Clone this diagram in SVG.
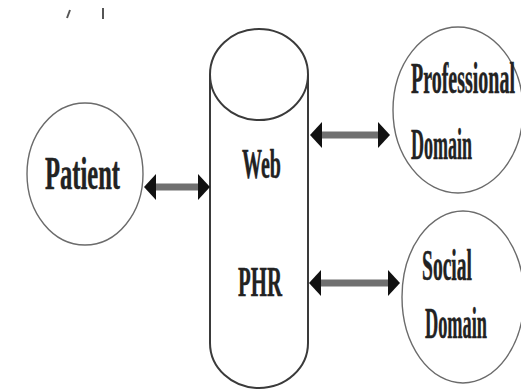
<svg xmlns="http://www.w3.org/2000/svg" width="521" height="392" viewBox="0 0 521 392">
  <style>
    .node { fill: #ffffff; stroke: #6b6b6b; stroke-width: 1.4; }
    .cyl { fill: #ffffff; stroke: #3a3a3a; stroke-width: 2; }
    .lbl { font-family: "Liberation Serif", "Times New Roman", serif; font-weight: bold; fill: #222222; stroke: #222222; stroke-width: 0.5; }
    .shaft { stroke: #707070; stroke-width: 7; fill: none; }
  </style>
  <defs>
    <marker id="head" viewBox="0 -14 12 28" refX="6" refY="0" markerWidth="12" markerHeight="28" markerUnits="userSpaceOnUse" orient="auto-start-reverse">
      <path d="M0,-13 L12,0 L0,13 Z" fill="#111111"/>
    </marker>
  </defs>
  <rect x="0" y="0" width="521" height="392" fill="#ffffff"/>

  <g id="fragments" stroke="#555555" stroke-width="2">
    <line x1="70" y1="10" x2="67" y2="18"/>
    <line x1="103" y1="8" x2="103" y2="19"/>
  </g>

  <g id="patient">
    <ellipse class="node" cx="85" cy="174" rx="58" ry="71"/>
    <text class="lbl" x="45" y="189" font-size="46" textLength="75" lengthAdjust="spacingAndGlyphs">Patient</text>
  </g>

  <g id="web-phr">
    <path class="cyl" d="M210,74 L210,343 A49,45 0 0 0 308,343 L308,74"/>
    <ellipse class="cyl" cx="259" cy="74.5" rx="49" ry="45.5" stroke-width="2.4"/>
    <text class="lbl" x="242" y="178" font-size="43" textLength="39" lengthAdjust="spacingAndGlyphs">Web</text>
    <text class="lbl" x="238" y="296" font-size="43" textLength="44" lengthAdjust="spacingAndGlyphs">PHR</text>
  </g>

  <g id="professional-domain">
    <ellipse class="node" cx="458" cy="110" rx="65" ry="83"/>
    <text class="lbl" x="411" y="93" font-size="44" textLength="104" lengthAdjust="spacingAndGlyphs">Professional</text>
    <text class="lbl" x="411" y="159" font-size="44" textLength="61" lengthAdjust="spacingAndGlyphs">Domain</text>
  </g>

  <g id="social-domain">
    <ellipse class="node" cx="463" cy="297" rx="61" ry="86"/>
    <text class="lbl" x="422" y="280" font-size="44" textLength="50" lengthAdjust="spacingAndGlyphs">Social</text>
    <text class="lbl" x="425" y="338" font-size="44" textLength="62" lengthAdjust="spacingAndGlyphs">Domain</text>
  </g>

  <g id="connectors">
    <line class="shaft" x1="150" y1="187" x2="204" y2="187" marker-start="url(#head)" marker-end="url(#head)"/>
    <line class="shaft" x1="316" y1="135" x2="384" y2="135" marker-start="url(#head)" marker-end="url(#head)"/>
    <line class="shaft" x1="315" y1="283" x2="394" y2="283" marker-start="url(#head)" marker-end="url(#head)"/>
  </g>
</svg>
